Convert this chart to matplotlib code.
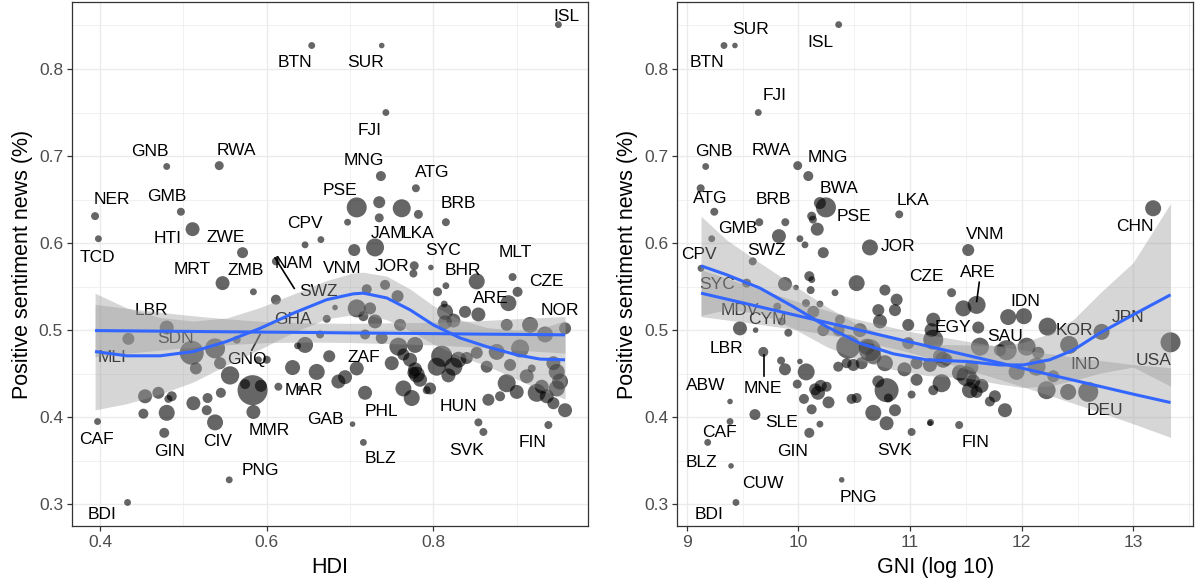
import numpy as np
import matplotlib
matplotlib.use("Agg")
import matplotlib.pyplot as plt
from matplotlib.ticker import MultipleLocator

plt.rcParams['font.family'] = ['Liberation Sans', 'DejaVu Sans']

# ---- left panel: HDI vs share of positive news, size = news volume ----
hdi = [0.654, 0.480, 0.543, 0.394, 0.497, 0.511, 0.398, 0.571, 0.646, 0.665,
       0.611, 0.708, 0.697, 0.705, 0.547, 0.950, 0.738, 0.743, 0.737, 0.779,
       0.735, 0.762, 0.782, 0.735, 0.815, 0.730, 0.797, 0.777, 0.584, 0.611,
       0.720, 0.742, 0.757, 0.708, 0.724, 0.682, 0.672, 0.730, 0.716, 0.760,
       0.664, 0.646, 0.637, 0.718, 0.738, 0.778, 0.764, 0.810, 0.675, 0.590,
       0.600, 0.631, 0.583, 0.593, 0.574, 0.556, 0.614, 0.640, 0.686, 0.708,
       0.718, 0.772, 0.776, 0.784, 0.792, 0.480, 0.434, 0.510, 0.538, 0.564,
       0.544, 0.515, 0.584, 0.660, 0.454, 0.470, 0.486, 0.482, 0.452, 0.480,
       0.512, 0.529, 0.528, 0.545, 0.538, 0.477, 0.397, 0.555, 0.433, 0.703,
       0.776, 0.852, 0.815, 0.805, 0.895, 0.901, 0.890, 0.813, 0.814, 0.838,
       0.854, 0.824, 0.814, 0.888, 0.916, 0.958, 0.934, 0.904, 0.876, 0.852,
       0.840, 0.804, 0.824, 0.864, 0.892, 0.918, 0.944, 0.948, 0.780, 0.750,
       0.758, 0.764, 0.774, 0.796, 0.888, 0.900, 0.924, 0.936, 0.930, 0.952,
       0.948, 0.944, 0.958, 0.880, 0.866, 0.854, 0.860, 0.938, 0.716, 0.778,
       0.830, 0.818, 0.912, 0.694]
hdi_sent = [0.827, 0.688, 0.689, 0.631, 0.636, 0.616, 0.605, 0.589, 0.598, 0.604,
            0.579, 0.641, 0.624, 0.592, 0.554, 0.851, 0.827, 0.750, 0.677, 0.663,
            0.647, 0.640, 0.633, 0.629, 0.624, 0.595, 0.572, 0.574, 0.544, 0.535,
            0.547, 0.552, 0.539, 0.525, 0.525, 0.526, 0.513, 0.510, 0.516, 0.506,
            0.495, 0.483, 0.482, 0.495, 0.491, 0.483, 0.472, 0.470, 0.470, 0.466,
            0.466, 0.457, 0.431, 0.436, 0.438, 0.448, 0.435, 0.433, 0.441, 0.456,
            0.428, 0.466, 0.451, 0.443, 0.431, 0.503, 0.490, 0.474, 0.479, 0.489,
            0.462, 0.456, 0.406, 0.452, 0.424, 0.428, 0.424, 0.421, 0.404, 0.405,
            0.416, 0.422, 0.408, 0.428, 0.394, 0.382, 0.395, 0.328, 0.302, 0.392,
            0.565, 0.556, 0.551, 0.544, 0.561, 0.544, 0.531, 0.530, 0.521, 0.521,
            0.518, 0.511, 0.509, 0.506, 0.506, 0.502, 0.495, 0.479, 0.475, 0.474,
            0.468, 0.458, 0.458, 0.458, 0.460, 0.456, 0.462, 0.452, 0.449, 0.462,
            0.481, 0.433, 0.422, 0.433, 0.439, 0.429, 0.428, 0.424, 0.435, 0.441,
            0.433, 0.416, 0.408, 0.424, 0.420, 0.394, 0.383, 0.391, 0.371, 0.455,
            0.466, 0.448, 0.447, 0.446]
hdi_vol = [0.2, 0.2, 1.4, 0.7, 0.7, 8.7, 0.2, 3.6, 0.2, 0.2,
           0.7, 25.7, 0.2, 5.1, 8.7, 0.2, 0.0, 0.2, 2.4, 0.7,
           5.1, 19.1, 1.4, 1.4, 0.7, 19.1, 0.0, 1.4, 0.2, 2.4,
           2.4, 2.4, 5.1, 19.1, 5.1, 0.0, 0.7, 8.7, 2.4, 5.1,
           0.7, 13.4, 0.2, 2.4, 5.0, 13.4, 5.1, 30.0, 5.1, 0.2,
           0.7, 11.0, 74.0, 5.1, 2.4, 20.0, 0.7, 0.0, 8.7, 8.7,
           8.7, 8.7, 5.1, 8.7, 0.7, 8.7, 5.1, 42.0, 25.7, 0.7,
           5.1, 5.1, 8.7, 13.4, 8.7, 5.1, 2.4, 0.7, 2.4, 13.4,
           8.7, 2.4, 2.4, 2.4, 13.4, 2.4, 0.2, 0.2, 0.2, 0.0,
           0.7, 13.4, 0.2, 1.4, 0.7, 2.4, 13.4, 0.2, 13.4, 5.1,
           8.7, 8.7, 8.7, 5.1, 13.4, 5.1, 13.4, 19.1, 13.4, 5.1,
           5.1, 19.1, 19.1, 5.1, 5.1, 0.7, 8.7, 13.4, 13.4, 8.7,
           19.1, 13.4, 13.4, 5.1, 19.1, 8.7, 19.1, 8.7, 8.7, 13.4,
           13.4, 5.1, 8.7, 2.4, 5.1, 0.7, 0.7, 0.7, 0.2, 8.7,
           13.4, 8.7, 8.7, 8.7]

hdi_labels = ["ISL", "BTN", "SUR", "FJI", "MNG", "ATG", "BRB", "PSE", "JAM", "LKA",
              "SYC", "MLT", "BHR", "CZE", "ARE", "NOR", "JOR", "VNM", "SWZ", "NAM",
              "ZMB", "MRT", "CPV", "ZWE", "HTI", "TCD", "NER", "GMB", "GNB", "RWA",
              "LBR", "SDN", "MLI", "GHA", "GNQ", "MAR", "ZAF", "GAB", "PHL", "BLZ",
              "HUN", "SVK", "FIN", "CAF", "GIN", "CIV", "MMR", "PNG", "BDI"]
hdi_lab_x = [0.960, 0.634, 0.719, 0.723, 0.717, 0.799, 0.830, 0.688, 0.746, 0.782,
             0.812, 0.898, 0.835, 0.935, 0.869, 0.952, 0.750, 0.690, 0.662, 0.632,
             0.575, 0.511, 0.646, 0.551, 0.481, 0.397, 0.414, 0.480, 0.460, 0.563,
             0.462, 0.490, 0.414, 0.631, 0.576, 0.644, 0.716, 0.670, 0.738, 0.736,
             0.830, 0.840, 0.919, 0.396, 0.484, 0.541, 0.603, 0.592, 0.402]
hdi_lab_y = [0.860, 0.807, 0.807, 0.729, 0.695, 0.681, 0.645, 0.660, 0.611, 0.611,
             0.592, 0.589, 0.569, 0.556, 0.536, 0.522, 0.573, 0.571, 0.544, 0.577,
             0.568, 0.570, 0.622, 0.606, 0.605, 0.584, 0.650, 0.654, 0.705, 0.706,
             0.523, 0.490, 0.468, 0.512, 0.466, 0.431, 0.469, 0.397, 0.406, 0.352,
             0.412, 0.362, 0.371, 0.374, 0.360, 0.372, 0.385, 0.339, 0.2885]
# label connector segments (x0, x1), (y0, y1)
hdi_seg_x = [[0.610, 0.633], [0.582, 0.592]]
hdi_seg_y = [[0.583, 0.548], [0.477, 0.495]]

# smoothers
hdi_loess_x = [0.394, 0.432, 0.472, 0.512, 0.552, 0.592, 0.632, 0.672, 0.704,
               0.716, 0.744, 0.772, 0.800, 0.832, 0.864, 0.900, 0.928, 0.958]
hdi_loess_y = [0.4754, 0.4705, 0.4705, 0.4754, 0.487, 0.502, 0.5195, 0.535, 0.5417,
               0.5425, 0.537, 0.5233, 0.506, 0.491, 0.481, 0.4716, 0.4667, 0.4659]
hdi_loess_se = [0.067, 0.055, 0.044, 0.035, 0.027, 0.024, 0.022, 0.022, 0.024,
                0.024, 0.025, 0.024, 0.022, 0.021, 0.022, 0.028, 0.035, 0.045]
hdi_lm_x = [0.394, 0.45, 0.50, 0.55, 0.60, 0.65, 0.70, 0.75, 0.80, 0.85, 0.90, 0.958]
hdi_lm_y = [0.4995, 0.4990, 0.4986, 0.4981, 0.4977, 0.4973, 0.4968, 0.4964,
            0.4960, 0.4955, 0.4951, 0.4946]
hdi_lm_se = [0.030, 0.024, 0.019, 0.015, 0.012, 0.011, 0.011, 0.012, 0.013,
             0.015, 0.018, 0.021]

# ---- right panel: GNI (log 10) ----
gni = [10.361, 9.432, 9.334, 9.641, 9.170, 9.994, 10.089, 9.125, 9.247, 10.193,
       10.247, 10.119, 10.130, 10.169, 9.883, 9.650, 9.826, 9.224, 10.014, 10.059,
       10.223, 10.903, 10.641, 9.591, 9.128, 13.177, 11.521, 10.098, 10.120, 9.880,
       9.979, 10.522, 10.110, 10.328, 10.775, 11.372, 10.880, 10.865, 10.716, 11.477,
       11.596, 11.879, 11.611, 10.984, 10.731, 11.193, 10.134, 10.193, 9.850, 9.910,
       10.223, 10.372, 10.447, 10.551, 10.611, 10.671, 10.775, 10.790, 10.984, 11.059,
       11.268, 11.328, 11.447, 11.566, 11.596, 11.715, 11.850, 11.059, 11.208, 11.014,
       10.070, 10.014, 10.357, 9.845, 9.686, 9.880, 10.150, 10.176, 10.200, 10.050,
       10.119, 10.270, 10.432, 9.477, 9.617, 9.811, 9.537, 10.068, 9.990, 10.253,
       9.388, 9.388, 9.611, 9.188, 9.397, 9.441, 10.388, 10.193, 10.098, 11.014,
       11.178, 10.492, 10.567, 10.641, 10.671, 10.790, 10.865, 10.716, 10.522, 10.477,
       10.806, 11.208, 12.020, 12.232, 12.715, 12.425, 13.333, 11.626, 11.865, 12.044,
       12.133, 11.954, 12.223, 12.416, 12.596, 11.208, 11.297, 11.178, 11.283, 11.507,
       11.537, 11.760, 11.805, 11.184, 11.440, 12.283, 12.148, 11.640, 11.550, 10.360,
       10.950]
gni_sent = [0.851, 0.827, 0.827, 0.750, 0.688, 0.689, 0.677, 0.663, 0.636, 0.646,
            0.641, 0.631, 0.627, 0.616, 0.624, 0.624, 0.608, 0.605, 0.605, 0.598,
            0.589, 0.633, 0.595, 0.579, 0.571, 0.640, 0.592, 0.562, 0.558, 0.553,
            0.549, 0.554, 0.546, 0.543, 0.546, 0.543, 0.535, 0.523, 0.523, 0.525,
            0.529, 0.515, 0.503, 0.506, 0.510, 0.500, 0.521, 0.530, 0.510, 0.497,
            0.500, 0.512, 0.481, 0.500, 0.481, 0.470, 0.462, 0.431, 0.485, 0.462,
            0.470, 0.466, 0.451, 0.441, 0.429, 0.418, 0.408, 0.443, 0.431, 0.426,
            0.452, 0.464, 0.458, 0.465, 0.475, 0.455, 0.432, 0.428, 0.436, 0.421,
            0.409, 0.417, 0.462, 0.502, 0.500, 0.527, 0.554, 0.531, 0.438, 0.435,
            0.418, 0.395, 0.403, 0.371, 0.344, 0.302, 0.328, 0.392, 0.382, 0.383,
            0.393, 0.460, 0.462, 0.477, 0.405, 0.393, 0.408, 0.441, 0.422, 0.421,
            0.422, 0.512, 0.516, 0.504, 0.498, 0.483, 0.486, 0.481, 0.477, 0.481,
            0.458, 0.452, 0.431, 0.429, 0.429, 0.489, 0.466, 0.460, 0.439, 0.447,
            0.431, 0.424, 0.477, 0.394, 0.391, 0.447, 0.474, 0.436, 0.457, 0.500,
            0.455]
gni_vol = [0.2, 0.0, 0.2, 0.2, 0.2, 1.4, 2.4, 0.7, 0.7, 5.1,
           25.7, 1.4, 0.7, 6.8, 0.7, 0.7, 8.7, 0.2, 0.2, 0.2,
           3.6, 0.7, 13.4, 0.7, 0.2, 13.4, 5.1, 2.4, 0.2, 8.7,
           0.0, 13.4, 0.7, 0.2, 3.6, 1.4, 5.1, 5.1, 5.1, 13.4,
           19.1, 13.4, 5.1, 5.1, 8.7, 8.7, 5.1, 0.2, 0.7, 0.7,
           5.1, 2.4, 42.0, 8.7, 13.4, 13.4, 13.4, 42.0, 5.1, 5.1,
           8.7, 5.1, 13.4, 8.7, 5.1, 2.4, 8.7, 5.1, 2.4, 0.7,
           16.0, 0.0, 2.4, 0.7, 2.4, 5.1, 5.1, 8.7, 5.1, 2.4,
           2.4, 5.0, 2.4, 8.7, 0.0, 0.7, 1.4, 0.7, 1.4, 2.4,
           0.0, 0.2, 3.6, 0.2, 0.0, 0.2, 0.0, 0.2, 2.4, 0.7,
           0.0, 5.1, 5.1, 33.0, 13.4, 8.7, 5.1, 5.1, 2.4, 2.4,
           1.4, 8.7, 13.4, 19.1, 13.4, 19.1, 25.7, 19.1, 25.7, 19.1,
           19.1, 13.4, 19.1, 13.4, 25.7, 25.7, 13.4, 8.7, 19.1, 25.7,
           13.4, 5.1, 5.1, 0.2, 0.7, 5.1, 5.1, 8.7, 8.7, 5.1,
           8.7]

gni_labels = ["SUR", "ISL", "BTN", "FJI", "GNB", "RWA", "MNG", "ATG", "BRB", "BWA",
              "PSE", "LKA", "GMB", "SWZ", "JOR", "CPV", "VNM", "CHN", "CZE", "ARE",
              "IDN", "EGY", "SAU", "KOR", "JPN", "USA", "IND", "DEU", "FIN", "SVK",
              "PNG", "CUW", "BDI", "BLZ", "CAF", "GIN", "SLE", "ABW", "MNE", "LBR",
              "CYM", "MDV", "SYC"]
gni_lab_x = [9.573, 10.202, 9.184, 9.791, 9.239, 9.755, 10.268, 9.209, 9.776, 10.364,
             10.498, 11.029, 9.462, 9.710, 10.889, 9.113, 11.671, 13.014, 11.149, 11.611,
             12.029, 11.387, 11.850, 12.476, 12.954, 13.177, 12.566, 12.745, 11.590, 10.865,
             10.537, 9.680, 9.203, 9.134, 9.292, 9.949, 9.850, 9.173, 9.680, 9.358,
             9.725, 9.477, 9.269]
gni_lab_y = [0.845, 0.831, 0.807, 0.769, 0.705, 0.706, 0.698, 0.651, 0.650, 0.663,
             0.630, 0.649, 0.617, 0.592, 0.596, 0.587, 0.610, 0.619, 0.562, 0.566,
             0.533, 0.503, 0.493, 0.500, 0.515, 0.465, 0.461, 0.408, 0.371, 0.362,
             0.308, 0.324, 0.2885, 0.348, 0.382, 0.361, 0.394, 0.436, 0.433, 0.479,
             0.512, 0.523, 0.552]
gni_seg_x = [[11.620, 11.597], [9.692, 9.692]]
gni_seg_y = [[0.555, 0.533], [0.472, 0.447]]

gni_loess_x = [9.128, 9.358, 9.656, 9.954, 10.253, 10.551, 10.850, 11.149, 11.507,
               11.805, 12.014, 12.253, 12.461, 12.700, 12.998, 13.333]
gni_loess_y = [0.5739, 0.5636, 0.5483, 0.527, 0.504, 0.485, 0.4728, 0.4659, 0.464,
               0.460, 0.460, 0.466, 0.477, 0.4966, 0.5176, 0.5406]
gni_loess_se = [0.057, 0.040, 0.029, 0.025, 0.023, 0.020, 0.018, 0.018, 0.019,
                0.022, 0.026, 0.030, 0.035, 0.046, 0.060, 0.105]
gni_lm_x = [9.128, 9.5, 10.0, 10.5, 11.0, 11.5, 12.0, 12.5, 13.0, 13.333]
gni_lm_y = [0.5425, 0.5314, 0.5164, 0.5014, 0.4864, 0.4714, 0.4564, 0.4414,
            0.4264, 0.4168]
gni_lm_se = [0.027, 0.022, 0.016, 0.012, 0.012, 0.016, 0.021, 0.027, 0.034, 0.040]


def marker_area(vol):
    # sqrt scale: radius 2.8..17 px, converted to points^2 at 100 dpi
    r_px = 2.8 + 14.2 * np.sqrt(np.asarray(vol) / 100.0)
    return (1.44 * r_px) ** 2


def draw_panel(ax, x, y, vol, labels, lab_x, lab_y, seg_x, seg_y,
               lo_x, lo_y, lo_se, lm_x, lm_y, lm_se):
    ax.scatter(x, y, s=marker_area(vol), color="black", alpha=0.6,
               linewidths=0, zorder=2)
    for lab, lx, ly in zip(labels, lab_x, lab_y):
        ax.text(lx, ly, lab, ha="center", va="center", fontsize=12.5,
                color="black", zorder=2)
    for sx, sy in zip(seg_x, seg_y):
        ax.plot(sx, sy, color="black", lw=1.2, zorder=2)

    # smoothers drawn over points and labels, as in the original
    for sx, sy, se in [(lo_x, lo_y, lo_se), (lm_x, lm_y, lm_se)]:
        sy = np.asarray(sy)
        se = np.asarray(se)
        ax.fill_between(sx, sy - se, sy + se, color="#999999", alpha=0.4,
                        linewidth=0, zorder=3)
        ax.plot(sx, sy, color="#3366FF", lw=2.2, zorder=4,
                solid_capstyle="butt")

    ax.set_ylim(0.275, 0.877)
    ax.yaxis.set_minor_locator(MultipleLocator(0.05))
    ax.set_yticks([0.3, 0.4, 0.5, 0.6, 0.7, 0.8])
    ax.set_yticklabels(["0.3", "0.4", "0.5", "0.6", "0.7", "0.8"])
    ax.grid(which="major", color="#EBEBEB", lw=1.0, zorder=0)
    ax.grid(which="minor", color="#EBEBEB", lw=0.5, zorder=0)
    ax.set_axisbelow(True)
    for sp in ax.spines.values():
        sp.set_color("#333333")
        sp.set_linewidth(0.9)
    ax.tick_params(which="major", direction="out", length=3.5, width=0.9,
                   color="#333333", labelcolor="#4D4D4D", labelsize=12.5, pad=3)
    ax.tick_params(which="minor", length=0)
    ax.set_ylabel("Positive sentiment news (%)", fontsize=15.5, labelpad=4)


fig = plt.figure(figsize=(11.95, 5.85), dpi=100)
ax1 = fig.add_axes([0.0603, 0.1009, 0.4318, 0.8957])
ax2 = fig.add_axes([0.5668, 0.1009, 0.4318, 0.8957])

draw_panel(ax1, hdi, hdi_sent, hdi_vol, hdi_labels, hdi_lab_x, hdi_lab_y,
           hdi_seg_x, hdi_seg_y, hdi_loess_x, hdi_loess_y, hdi_loess_se,
           hdi_lm_x, hdi_lm_y, hdi_lm_se)
draw_panel(ax2, gni, gni_sent, gni_vol, gni_labels, gni_lab_x, gni_lab_y,
           gni_seg_x, gni_seg_y, gni_loess_x, gni_loess_y, gni_loess_se,
           gni_lm_x, gni_lm_y, gni_lm_se)

ax1.set_xlim(0.3664, 0.9856)
ax1.xaxis.set_minor_locator(MultipleLocator(0.1))
ax1.set_xticks([0.4, 0.6, 0.8])
ax1.set_xticklabels(["0.4", "0.6", "0.8"])
ax1.set_xlabel("HDI", fontsize=15.5, labelpad=5)

ax2.set_xlim(8.916, 13.537)
ax2.xaxis.set_minor_locator(MultipleLocator(0.5))
ax2.set_xticks([9, 10, 11, 12, 13])
ax2.set_xticklabels(["9", "10", "11", "12", "13"])
ax2.set_xlabel("GNI (log 10)", fontsize=15.5, labelpad=5)

fig.savefig("out.png", dpi=100)
